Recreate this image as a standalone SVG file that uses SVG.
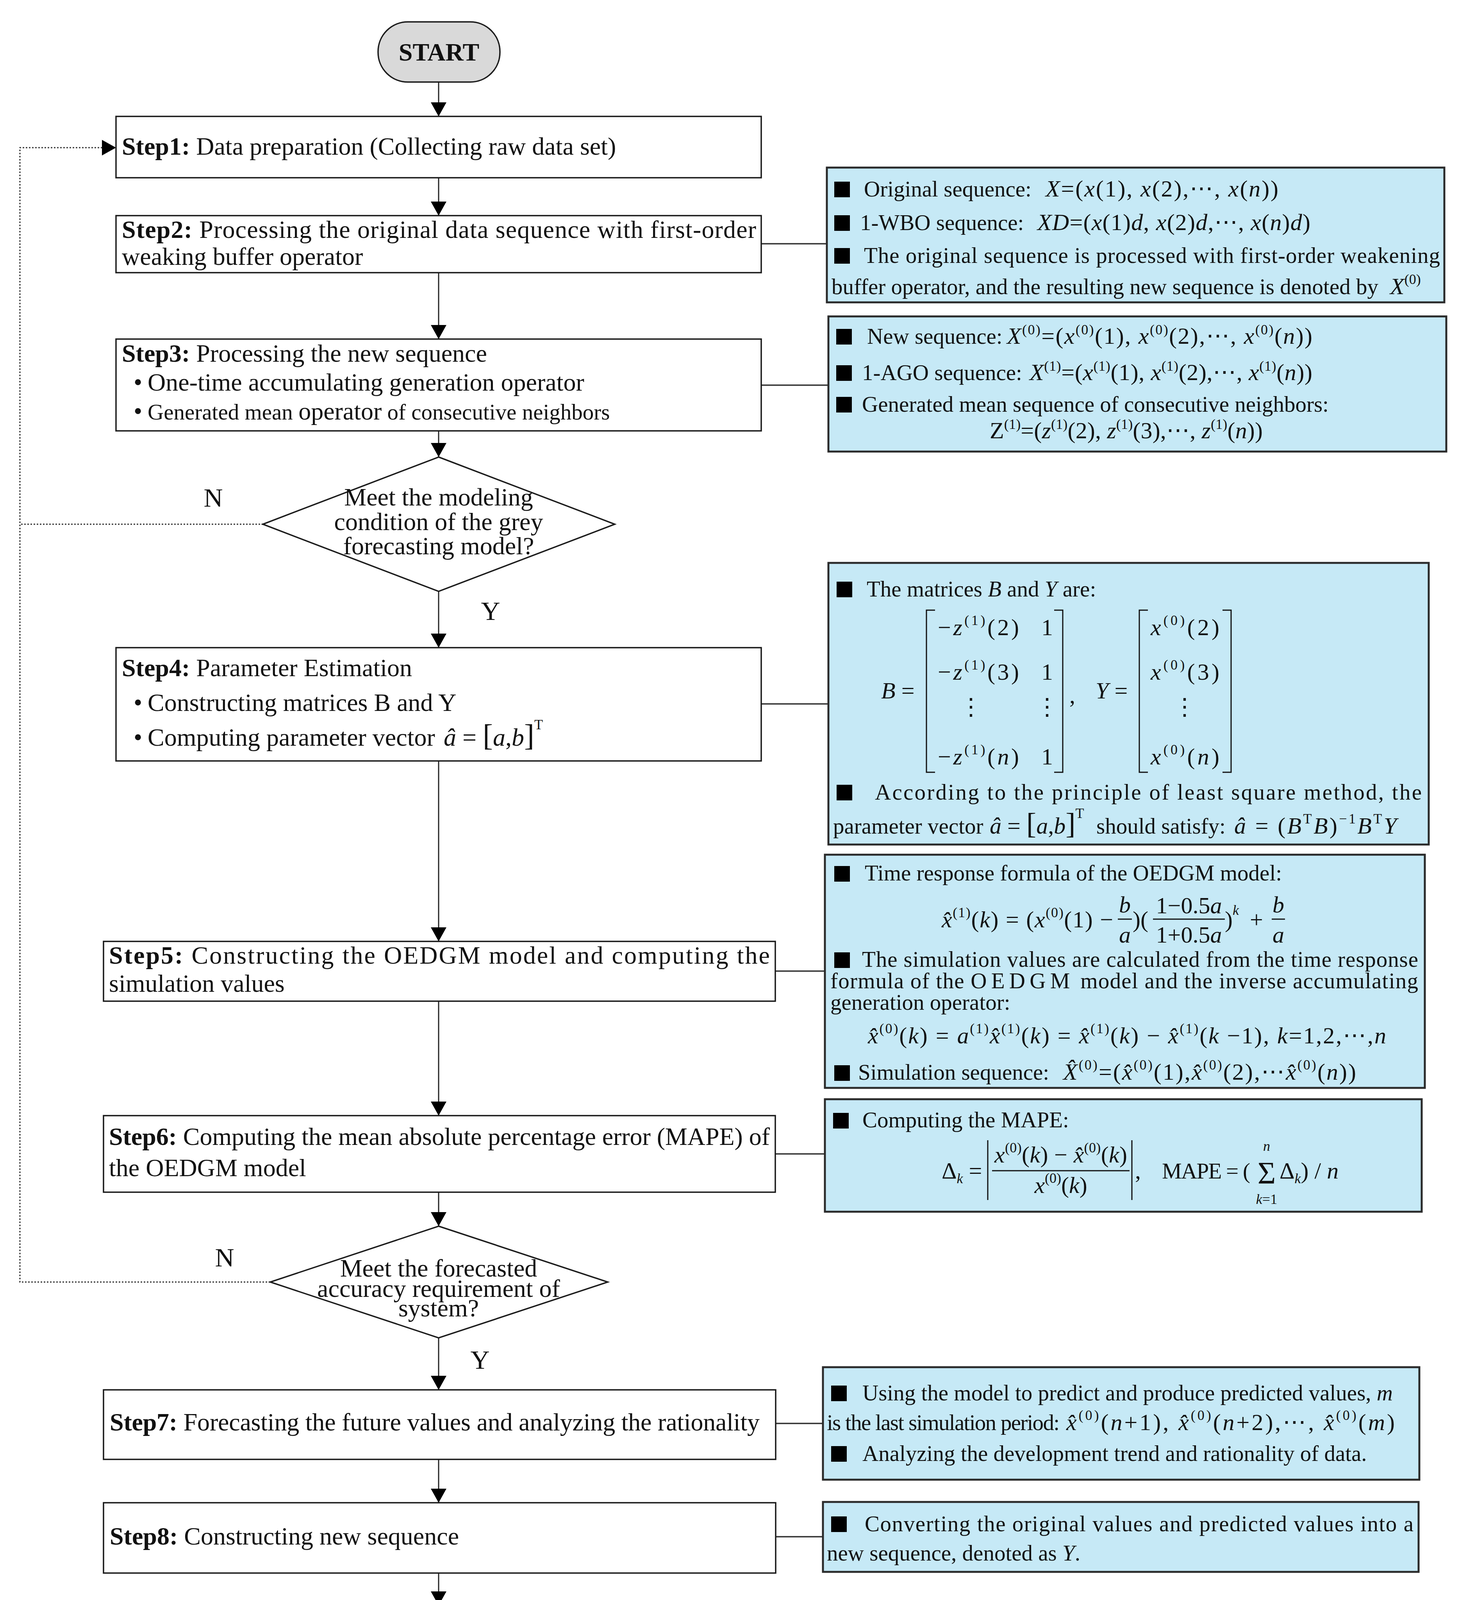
<svg xmlns="http://www.w3.org/2000/svg" width="3756" height="4592" viewBox="0 0 3756 4592">
<style>
.t{font-family:"Liberation Serif","Times New Roman","DejaVu Serif",serif;fill:#111}
.m{font-size:64px}
.n{font-size:57px}
.f{font-size:60px}
.s{font-size:36px}
.it{font-style:italic}
.b{font-weight:bold}
.box{fill:#fff;stroke:#1a1a1a;stroke-width:3.5}
.info{fill:#c6e9f6;stroke:#2a2a2a;stroke-width:5}
.term{fill:#d9d9d9;stroke:#1a1a1a;stroke-width:3.5}
.sq{fill:#000}
.con{stroke:#222;stroke-width:3;fill:none}
.side{stroke:#333;stroke-width:3.5;fill:none}
.dot{stroke:#333;stroke-width:3;stroke-dasharray:4 4;fill:none}
.ln{stroke:#111;stroke-width:3;fill:none}
</style>
<defs>
<marker id="ah" viewBox="0 0 36 40" refX="36" refY="20" markerWidth="36" markerHeight="40" markerUnits="userSpaceOnUse" orient="auto"><path d="M0,0 L36,20 L0,40 z" fill="#000"/></marker>
</defs>
<rect width="3756" height="4592" fill="#fff"/>

<g id="connectors">
<path class="con" d="M1123,210 V298" marker-end="url(#ah)"/>
<path class="con" d="M1123,455 V552" marker-end="url(#ah)"/>
<path class="con" d="M1123,698 V868" marker-end="url(#ah)"/>
<path class="con" d="M1123,1103 V1170" marker-end="url(#ah)"/>
<path class="con" d="M1123,1514 V1658" marker-end="url(#ah)"/>
<path class="con" d="M1123,1948 V2410" marker-end="url(#ah)"/>
<path class="con" d="M1123,2563 V2856" marker-end="url(#ah)"/>
<path class="con" d="M1123,3052 V3139" marker-end="url(#ah)"/>
<path class="con" d="M1123,3425 V3558" marker-end="url(#ah)"/>
<path class="con" d="M1123,3736 V3847" marker-end="url(#ah)"/>
<path class="con" d="M1123,4027 V4110" marker-end="url(#ah)"/>
<path class="con" d="M1123,4288 V4368" marker-end="url(#ah)"/>
<path class="dot" d="M674,1342 H51"/>
<path class="dot" d="M692,3282 H51 V378 H297" marker-end="url(#ah)"/>
<path class="side" d="M1949,624 H2117"/>
<path class="side" d="M1949,986 H2121"/>
<path class="side" d="M1949,1802 H2121"/>
<path class="side" d="M1985,2486 H2112"/>
<path class="side" d="M1985,2954 H2112"/>
<path class="side" d="M1986,3644 H2107"/>
<path class="side" d="M1986,3934 H2107"/>
</g>

<g id="start">
<rect class="term" x="968" y="56" width="312" height="154" rx="76" ry="76"/>
<text class="t m b" x="1124" y="155" text-anchor="middle">START</text>
</g>

<g id="step1">
<rect class="box" x="297" y="298" width="1652" height="157"/>
<text class="t m" x="312" y="396"><tspan class="b">Step1:</tspan> Data preparation (Collecting raw data set)</text>
</g>

<g id="step2">
<rect class="box" x="297" y="552" width="1652" height="146"/>
<text class="t m" x="312" y="609" textLength="1624" lengthAdjust="spacing"><tspan class="b">Step2:</tspan> Processing the original data sequence with first-order</text>
<text class="t m" x="312" y="678">weaking buffer operator</text>
</g>

<g id="step3">
<rect class="box" x="297" y="868" width="1652" height="235"/>
<text class="t m" x="312" y="926"><tspan class="b">Step3:</tspan> Processing the new sequence</text>
<text class="t m" x="342" y="1000">•</text>
<text class="t m" x="378" y="1000">One-time accumulating generation operator</text>
<text class="t m" x="342" y="1074">•</text>
<text class="t" x="378" y="1074" font-size="57">Generated mean <tspan font-size="64">operator</tspan> of consecutive neighbors</text>
</g>

<g id="decision1">
<path class="box" d="M1123,1170 L1574,1342 L1123,1514 L673,1342 Z"/>
<text class="t m" x="1123" y="1294" text-anchor="middle">Meet the modeling</text>
<text class="t m" x="1123" y="1357" text-anchor="middle">condition of the grey</text>
<text class="t m" x="1123" y="1419" text-anchor="middle">forecasting model?</text>
<text class="t" font-size="68" x="546" y="1297" text-anchor="middle">N</text>
<text class="t" font-size="68" x="1256" y="1587" text-anchor="middle">Y</text>
</g>

<g id="step4">
<rect class="box" x="297" y="1658" width="1652" height="290"/>
<text class="t m" x="312" y="1731"><tspan class="b">Step4:</tspan> Parameter Estimation</text>
<text class="t m" x="342" y="1820">•</text>
<text class="t m" x="378" y="1820">Constructing matrices B and Y</text>
<text class="t m" x="342" y="1909">•</text>
<text class="t m" x="378" y="1909">Computing parameter vector</text>
<text class="t m" x="1136" y="1909"><tspan class="it">â</tspan> = <tspan font-size="78">[</tspan><tspan class="it">a</tspan>,<tspan class="it">b</tspan><tspan font-size="78">]</tspan><tspan class="s" dy="-42">T</tspan></text>
</g>

<g id="step5">
<rect class="box" x="265" y="2410" width="1720" height="153"/>
<text class="t m" x="279" y="2467" textLength="1692" lengthAdjust="spacing"><tspan class="b">Step5:</tspan> Constructing the OEDGM model and computing the</text>
<text class="t m" x="279" y="2539">simulation values</text>
</g>

<g id="step6">
<rect class="box" x="265" y="2856" width="1720" height="196"/>
<text class="t m" x="279" y="2931" textLength="1692" lengthAdjust="spacing"><tspan class="b">Step6:</tspan> Computing the mean absolute percentage error (MAPE) of</text>
<text class="t m" x="279" y="3011">the OEDGM model</text>
</g>

<g id="decision2">
<path class="box" d="M1123,3139 L1556,3282 L1123,3425 L692,3282 Z"/>
<text class="t m" x="1123" y="3268" text-anchor="middle">Meet the forecasted</text>
<text class="t m" x="1123" y="3320" text-anchor="middle">accuracy requirement of</text>
<text class="t m" x="1123" y="3370" text-anchor="middle">system?</text>
<text class="t" font-size="68" x="575" y="3242" text-anchor="middle">N</text>
<text class="t" font-size="68" x="1229" y="3504" text-anchor="middle">Y</text>
</g>

<g id="step7">
<rect class="box" x="265" y="3558" width="1721" height="178"/>
<text class="t m" x="281" y="3662" textLength="1664" lengthAdjust="spacing"><tspan class="b">Step7:</tspan> Forecasting the future values and analyzing the rationality</text>
</g>

<g id="step8">
<rect class="box" x="265" y="3847" width="1721" height="180"/>
<text class="t m" x="281" y="3954"><tspan class="b">Step8:</tspan> Constructing new sequence</text>
</g>

<g id="step9">
<rect class="box" x="265" y="4110" width="1721" height="178"/>
<text class="t m" x="281" y="4180" textLength="1690" lengthAdjust="spacing"><tspan class="b">Step9:</tspan> Constructing the graphical function or logical function</text>
<text class="t m" x="281" y="4254">based on system dynamics</text>
</g>

<g id="stop">
<rect class="term" x="947" y="4368" width="359" height="178" rx="86" ry="86"/>
<text class="t b" font-size="74" x="1126" y="4483" text-anchor="middle">STOP</text>
</g>

<g id="info1">
<rect class="info" x="2117" y="429" width="1581" height="345"/>
<rect class="sq" x="2136" y="465" width="40" height="40"/>
<text class="t n" x="2212" y="503">Original sequence:</text>
<text class="t f" x="2677" y="503" textLength="596" lengthAdjust="spacing"><tspan class="it">X</tspan>=(<tspan class="it">x</tspan>(1), <tspan class="it">x</tspan>(2),⋯, <tspan class="it">x</tspan>(<tspan class="it">n</tspan>))</text>
<rect class="sq" x="2136" y="551" width="40" height="40"/>
<text class="t n" x="2202" y="589">1-WBO sequence:</text>
<text class="t f" x="2656" y="589" textLength="699" lengthAdjust="spacing"><tspan class="it">XD</tspan>=(<tspan class="it">x</tspan>(1)<tspan class="it">d</tspan>, <tspan class="it">x</tspan>(2)<tspan class="it">d</tspan>,⋯, <tspan class="it">x</tspan>(<tspan class="it">n</tspan>)<tspan class="it">d</tspan>)</text>
<rect class="sq" x="2136" y="635" width="40" height="40"/>
<text class="t n" x="2212" y="673" textLength="1475" lengthAdjust="spacing">The original sequence is processed with first-order weakening</text>
<text class="t n" x="2129" y="753" textLength="1400" lengthAdjust="spacing">buffer operator, and the resulting new sequence is denoted by</text>
<text class="t f" x="3559" y="753"><tspan class="it">X</tspan><tspan class="s" dy="-26">(0)</tspan></text>
</g>

<g id="info2">
<rect class="info" x="2121" y="810" width="1582" height="346"/>
<rect class="sq" x="2141" y="842" width="40" height="40"/>
<text class="t n" x="2220" y="880">New sequence:</text>
<text class="t f" x="2578" y="880" textLength="782" lengthAdjust="spacing"><tspan class="it">X</tspan><tspan class="s" dy="-24">(0)</tspan><tspan dy="24">=(</tspan><tspan class="it">x</tspan><tspan class="s" dy="-24">(0)</tspan><tspan dy="24">(1), </tspan><tspan class="it">x</tspan><tspan class="s" dy="-24">(0)</tspan><tspan dy="24">(2),⋯, </tspan><tspan class="it">x</tspan><tspan class="s" dy="-24">(0)</tspan><tspan dy="24">(</tspan><tspan class="it">n</tspan>))</text>
<rect class="sq" x="2141" y="935" width="40" height="40"/>
<text class="t n" x="2207" y="973">1-AGO sequence:</text>
<text class="t f" x="2636" y="973" textLength="724" lengthAdjust="spacing"><tspan class="it">X</tspan><tspan class="s" dy="-24">(1)</tspan><tspan dy="24">=(</tspan><tspan class="it">x</tspan><tspan class="s" dy="-24">(1)</tspan><tspan dy="24">(1), </tspan><tspan class="it">x</tspan><tspan class="s" dy="-24">(1)</tspan><tspan dy="24">(2),⋯, </tspan><tspan class="it">x</tspan><tspan class="s" dy="-24">(1)</tspan><tspan dy="24">(</tspan><tspan class="it">n</tspan>))</text>
<rect class="sq" x="2141" y="1016" width="40" height="40"/>
<text class="t n" x="2207" y="1054">Generated mean sequence of consecutive neighbors:</text>
<text class="t f" x="2534" y="1122" textLength="699" lengthAdjust="spacing">Z<tspan class="s" dy="-24">(1)</tspan><tspan dy="24">=(</tspan><tspan class="it">z</tspan><tspan class="s" dy="-24">(1)</tspan><tspan dy="24">(2), </tspan><tspan class="it">z</tspan><tspan class="s" dy="-24">(1)</tspan><tspan dy="24">(3),⋯, </tspan><tspan class="it">z</tspan><tspan class="s" dy="-24">(1)</tspan><tspan dy="24">(</tspan><tspan class="it">n</tspan>))</text>
</g>

<g id="info3">
<rect class="info" x="2121" y="1441" width="1537" height="721"/>
<rect class="sq" x="2142" y="1489" width="40" height="40"/>
<text class="t n" x="2219" y="1527">The matrices <tspan class="it">B</tspan> and <tspan class="it">Y</tspan> are:</text>
<text class="t f" x="2256" y="1788"><tspan class="it">B</tspan> =</text>
<path class="ln" d="M2394,1562 H2372 V1977 H2394"/>
<path class="ln" d="M2699,1562 H2721 V1977 H2699"/>
<text class="t f" x="2401" y="1626" textLength="208" lengthAdjust="spacing">−<tspan class="it">z</tspan><tspan class="s" dy="-26">(1)</tspan><tspan dy="26">(2)</tspan></text>
<text class="t f" x="2681" y="1626" text-anchor="middle">1</text>
<text class="t f" x="2401" y="1740" textLength="208" lengthAdjust="spacing">−<tspan class="it">z</tspan><tspan class="s" dy="-26">(1)</tspan><tspan dy="26">(3)</tspan></text>
<text class="t f" x="2681" y="1740" text-anchor="middle">1</text>
<text class="t f" x="2486" y="1830" text-anchor="middle">⋮</text>
<text class="t f" x="2681" y="1830" text-anchor="middle">⋮</text>
<text class="t f" x="2401" y="1957" textLength="208" lengthAdjust="spacing">−<tspan class="it">z</tspan><tspan class="s" dy="-26">(1)</tspan><tspan dy="26">(</tspan><tspan class="it">n</tspan>)</text>
<text class="t f" x="2681" y="1957" text-anchor="middle">1</text>
<text class="t f" x="2738" y="1800">,</text>
<text class="t f" x="2805" y="1788"><tspan class="it">Y</tspan> =</text>
<path class="ln" d="M2939,1562 H2917 V1977 H2939"/>
<path class="ln" d="M3130,1562 H3152 V1977 H3130"/>
<text class="t f" x="2946" y="1626" textLength="176" lengthAdjust="spacing"><tspan class="it">x</tspan><tspan class="s" dy="-26">(0)</tspan><tspan dy="26">(2)</tspan></text>
<text class="t f" x="2946" y="1740" textLength="176" lengthAdjust="spacing"><tspan class="it">x</tspan><tspan class="s" dy="-26">(0)</tspan><tspan dy="26">(3)</tspan></text>
<text class="t f" x="3033" y="1830" text-anchor="middle">⋮</text>
<text class="t f" x="2946" y="1957" textLength="176" lengthAdjust="spacing"><tspan class="it">x</tspan><tspan class="s" dy="-26">(0)</tspan><tspan dy="26">(</tspan><tspan class="it">n</tspan>)</text>
<rect class="sq" x="2142" y="2009" width="40" height="40"/>
<text class="t n" x="2240" y="2047" textLength="1400" lengthAdjust="spacing">According to the principle of least square method, the</text>
<text class="t n" x="2133" y="2134">parameter vector</text>
<text class="t f" x="2534" y="2134"><tspan class="it">â</tspan> = <tspan font-size="76">[</tspan><tspan class="it">a</tspan>,<tspan class="it">b</tspan><tspan font-size="76">]</tspan><tspan class="s" dy="-40">T</tspan></text>
<text class="t n" x="2807" y="2134">should satisfy:</text>
<text class="t f" x="3160" y="2134" textLength="416" lengthAdjust="spacing"><tspan class="it">â</tspan> = (<tspan class="it">B</tspan><tspan class="s" dy="-26">T</tspan><tspan class="it" dy="26">B</tspan>)<tspan class="s" dy="-26">−1</tspan><tspan class="it" dy="26">B</tspan><tspan class="s" dy="-26">T</tspan><tspan class="it" dy="26">Y</tspan></text>
</g>

<g id="info4">
<rect class="info" x="2112" y="2188" width="1536" height="597"/>
<rect class="sq" x="2136" y="2217" width="40" height="40"/>
<text class="t n" x="2214" y="2254">Time response formula of the OEDGM model:</text>
<text class="t f" x="2411" y="2374" textLength="439" lengthAdjust="spacing"><tspan class="it">x̂</tspan><tspan class="s" dy="-26">(1)</tspan><tspan dy="26">(</tspan><tspan class="it">k</tspan>) = (<tspan class="it">x</tspan><tspan class="s" dy="-26">(0)</tspan><tspan dy="26">(1) −</tspan></text>
<text class="t f it" x="2880" y="2336" text-anchor="middle">b</text>
<path class="ln" d="M2862,2353 H2898"/>
<text class="t f it" x="2880" y="2413" text-anchor="middle">a</text>
<text class="t f" x="2900" y="2374">)(</text>
<text class="t f" x="3044" y="2338" text-anchor="middle">1−0.5<tspan class="it">a</tspan></text>
<path class="ln" d="M2952,2353 H3136"/>
<text class="t f" x="3044" y="2413" text-anchor="middle">1+0.5<tspan class="it">a</tspan></text>
<text class="t f" x="3136" y="2374">)<tspan class="s it" dy="-32">k</tspan></text>
<text class="t f" x="3200" y="2374">+</text>
<text class="t f it" x="3273" y="2336" text-anchor="middle">b</text>
<path class="ln" d="M3256,2353 H3290"/>
<text class="t f it" x="3273" y="2413" text-anchor="middle">a</text>
<rect class="sq" x="2136" y="2438" width="40" height="40"/>
<text class="t n" x="2207" y="2475" textLength="1424" lengthAdjust="spacing">The simulation values are calculated from the time response</text>
<text class="t n" x="2126" y="2530" textLength="1505" lengthAdjust="spacing">formula of the <tspan letter-spacing="10">OEDGM</tspan> model and the inverse accumulating</text>
<text class="t n" x="2126" y="2585">generation operator:</text>
<text class="t f" x="2222" y="2671" textLength="1327" lengthAdjust="spacing"><tspan class="it">x̂</tspan><tspan class="s" dy="-26">(0)</tspan><tspan dy="26">(</tspan><tspan class="it">k</tspan>) = <tspan class="it">a</tspan><tspan class="s" dy="-26">(1)</tspan><tspan class="it" dy="26">x̂</tspan><tspan class="s" dy="-26">(1)</tspan><tspan dy="26">(</tspan><tspan class="it">k</tspan>) = <tspan class="it">x̂</tspan><tspan class="s" dy="-26">(1)</tspan><tspan dy="26">(</tspan><tspan class="it">k</tspan>) − <tspan class="it">x̂</tspan><tspan class="s" dy="-26">(1)</tspan><tspan dy="26">(</tspan><tspan class="it">k</tspan> −1), <tspan class="it">k</tspan>=1,2,⋯,<tspan class="it">n</tspan></text>
<rect class="sq" x="2136" y="2727" width="40" height="40"/>
<text class="t n" x="2197" y="2764">Simulation sequence:</text>
<text class="t f" x="2722" y="2764" textLength="750" lengthAdjust="spacing"><tspan class="it">X̂</tspan><tspan class="s" dy="-26">(0)</tspan><tspan dy="26">=(</tspan><tspan class="it">x̂</tspan><tspan class="s" dy="-26">(0)</tspan><tspan dy="26">(1),</tspan><tspan class="it">x̂</tspan><tspan class="s" dy="-26">(0)</tspan><tspan dy="26">(2),⋯</tspan><tspan class="it">x̂</tspan><tspan class="s" dy="-26">(0)</tspan><tspan dy="26">(</tspan><tspan class="it">n</tspan>))</text>
</g>

<g id="info5">
<rect class="info" x="2112" y="2814" width="1528" height="288"/>
<rect class="sq" x="2133" y="2849" width="40" height="40"/>
<text class="t n" x="2208" y="2886">Computing the MAPE:</text>
<text class="t f" x="2411" y="3017">Δ<tspan class="s it" dy="12">k</tspan><tspan dy="-12"> =</tspan></text>
<path class="ln" d="M2529,2919 V3072 M2898,2919 V3072"/>
<text class="t f" x="2716" y="2976" text-anchor="middle" textLength="340" lengthAdjust="spacing"><tspan class="it">x</tspan><tspan class="s" dy="-26">(0)</tspan><tspan dy="26">(</tspan><tspan class="it">k</tspan>) − <tspan class="it">x̂</tspan><tspan class="s" dy="-26">(0)</tspan><tspan dy="26">(</tspan><tspan class="it">k</tspan>)</text>
<path class="ln" d="M2540,2997 H2892"/>
<text class="t f" x="2716" y="3054" text-anchor="middle"><tspan class="it">x</tspan><tspan class="s" dy="-26">(0)</tspan><tspan dy="26">(</tspan><tspan class="it">k</tspan>)</text>
<text class="t f" x="2906" y="3017">,</text>
<text class="t n" x="2975" y="3017" textLength="226" lengthAdjust="spacing">MAPE = (</text>
<text class="t" font-size="80" x="3243" y="3030" text-anchor="middle">Σ</text>
<text class="t s it" x="3243" y="2946" text-anchor="middle">n</text>
<text class="t s" x="3243" y="3082" text-anchor="middle"><tspan class="it">k</tspan>=1</text>
<text class="t f" x="3276" y="3017">Δ<tspan class="s it" dy="12">k</tspan><tspan dy="-12">) / </tspan><tspan class="it">n</tspan></text>
</g>

<g id="info6">
<rect class="info" x="2107" y="3500" width="1527" height="288"/>
<rect class="sq" x="2128" y="3547" width="40" height="40"/>
<text class="t n" x="2208" y="3585" textLength="1358" lengthAdjust="spacing">Using the model to predict and produce predicted values, <tspan class="it">m</tspan></text>
<text class="t n" x="2117" y="3661" textLength="596" lengthAdjust="spacing">is the last simulation period:</text>
<text class="t f" x="2730" y="3661" textLength="841" lengthAdjust="spacing"><tspan class="it">x̂</tspan><tspan class="s" dy="-26">(0)</tspan><tspan dy="26">(</tspan><tspan class="it">n</tspan>+1), <tspan class="it">x̂</tspan><tspan class="s" dy="-26">(0)</tspan><tspan dy="26">(</tspan><tspan class="it">n</tspan>+2),⋯, <tspan class="it">x̂</tspan><tspan class="s" dy="-26">(0)</tspan><tspan dy="26">(</tspan><tspan class="it">m</tspan>)</text>
<rect class="sq" x="2128" y="3702" width="40" height="40"/>
<text class="t n" x="2208" y="3740">Analyzing the development trend and rationality of data.</text>
</g>

<g id="info7">
<rect class="info" x="2107" y="3845" width="1525" height="179"/>
<rect class="sq" x="2128" y="3882" width="40" height="40"/>
<text class="t n" x="2214" y="3920" textLength="1405" lengthAdjust="spacing">Converting the original values and predicted values into a</text>
<text class="t n" x="2117" y="3995">new sequence, denoted as <tspan class="it">Y</tspan>.</text>
</g>
</svg>
